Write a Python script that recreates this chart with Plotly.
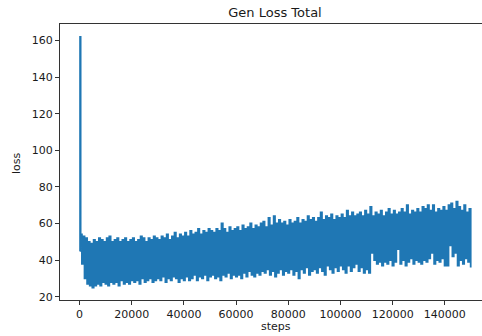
import plotly.graph_objects as go

LOG_EVERY = 500
FIRST_STEP = 400

# initial spike at the very start of training
start_steps = [0, 200]
start_loss = [45, 162]

# upper swings of the noisy loss curve, one per 1000 steps (k = 0..149)
loss_high = [
    54, 53, 52, 50, 49, 51, 50, 52, 51, 50,
    52, 53, 50, 51, 52, 50, 51, 52, 50, 51,
    52, 50, 51, 53, 52, 50, 52, 51, 53, 52,
    51, 53, 52, 54, 51, 53, 55, 52, 54, 53,
    55, 53, 56, 54, 55, 57, 54, 56, 55, 57,
    56, 55, 57, 56, 60, 57, 55, 58, 56, 57,
    58, 56, 59, 57, 58, 60, 57, 59, 58, 60,
    61, 58, 63, 59, 64, 60, 62, 60, 61, 59,
    62, 60, 61, 63, 60, 62, 61, 64, 62, 63,
    61, 63, 66, 62, 64, 63, 65, 62, 64, 63,
    65, 63, 67, 64, 66, 64, 65, 66, 64, 67,
    65, 69, 64, 66, 65, 67, 64, 66, 68, 65,
    67, 65, 66, 68, 66, 70, 65, 67, 66, 68,
    66, 69, 68, 70, 67, 70, 66, 68, 67, 69,
    67, 70, 71, 68, 72, 69, 67, 70, 66, 68,
]

# lower swings of the noisy loss curve, one per 1000 steps (k = 0..149)
loss_low = [
    38, 30, 27, 26, 25, 26, 27, 26, 28, 27,
    26, 28, 27, 28, 26, 29, 27, 28, 27, 29,
    28, 29, 27, 30, 28, 29, 30, 28, 29, 30,
    29, 31, 28, 30, 29, 31, 30, 28, 30, 29,
    31, 29, 30, 32, 29, 31, 30, 32, 29, 31,
    32, 30, 31, 29, 32, 31, 33, 30, 32, 31,
    32, 30, 33, 31, 34, 32, 31, 33, 32, 34,
    33, 35, 32, 34, 31, 33, 35, 32, 34, 33,
    35, 32, 34, 30, 35, 33, 36, 32, 34, 35,
    33, 36, 34, 32, 37, 35, 33, 36, 34, 37,
    35, 33, 37, 34, 36, 38, 34, 36, 33, 35,
    33, 44, 40, 38, 39, 37, 39, 38, 40, 37,
    39, 46, 38, 40, 37, 39, 41, 38, 40, 39,
    38, 40, 39, 41, 44, 38, 40, 39, 41, 37,
    37, 48, 42, 44, 37, 40, 38, 41, 39, 36,
]

x_ticks = [0, 20000, 40000, 60000, 80000, 100000, 120000, 140000]
y_ticks = [20, 40, 60, 80, 100, 120, 140, 160]

# build the logged series: alternate upper and lower swings
loss = list(start_loss)
steps = list(start_steps)
i = 0
for hi, lo in zip(loss_high, loss_low):
    steps.append(FIRST_STEP + LOG_EVERY * i)
    loss.append(hi)
    i += 1
    steps.append(FIRST_STEP + LOG_EVERY * i)
    loss.append(lo)
    i += 1

FONT = "DejaVu Sans"
TXT = "#1a1a1a"
AX = "#333333"

fig = go.Figure()
fig.add_trace(go.Scatter(
    x=steps, y=loss, mode="lines",
    line=dict(color="#1f77b4", width=1.8, simplify=False, shape="hv"),
    showlegend=False, hoverinfo="skip",
))

fig.update_layout(
    width=482, height=336,
    margin=dict(l=60, r=0, t=24, b=36),
    paper_bgcolor="white", plot_bgcolor="white",
    font=dict(family=FONT, size=11, color=TXT),
    title=dict(text="Gen Loss Total", x=275 / 482, xanchor="center",
               y=1 - 12.5 / 336, yanchor="middle", yref="container",
               font=dict(family=FONT, size=13, color=TXT)),
    xaxis=dict(range=[-7500, 154240], tickvals=x_ticks,
               ticktext=[str(v) for v in x_ticks],
               showgrid=False, zeroline=False,
               showline=True, linecolor=AX, linewidth=1, mirror=True,
               ticks="outside", ticklen=4, tickcolor=AX, tickwidth=1),
    yaxis=dict(range=[18.2, 169], tickvals=y_ticks,
               ticktext=[str(v) for v in y_ticks],
               showgrid=False, zeroline=False,
               showline=True, linecolor=AX, linewidth=1, mirror=False,
               ticks="outside", ticklen=4, tickcolor=AX, tickwidth=1),
    annotations=[
        dict(text="steps", xref="paper", yref="paper", x=(275.5 - 60) / 422,
             y=(300 - 326.5) / 276, xanchor="center", yanchor="middle",
             showarrow=False, font=dict(family=FONT, size=11, color=TXT)),
        dict(text="loss", xref="paper", yref="paper", x=(16 - 60) / 422,
             y=(300 - 163) / 276, xanchor="center", yanchor="middle",
             textangle=-90, showarrow=False,
             font=dict(family=FONT, size=11, color=TXT)),
    ],
)

fig.write_html("out.html")
